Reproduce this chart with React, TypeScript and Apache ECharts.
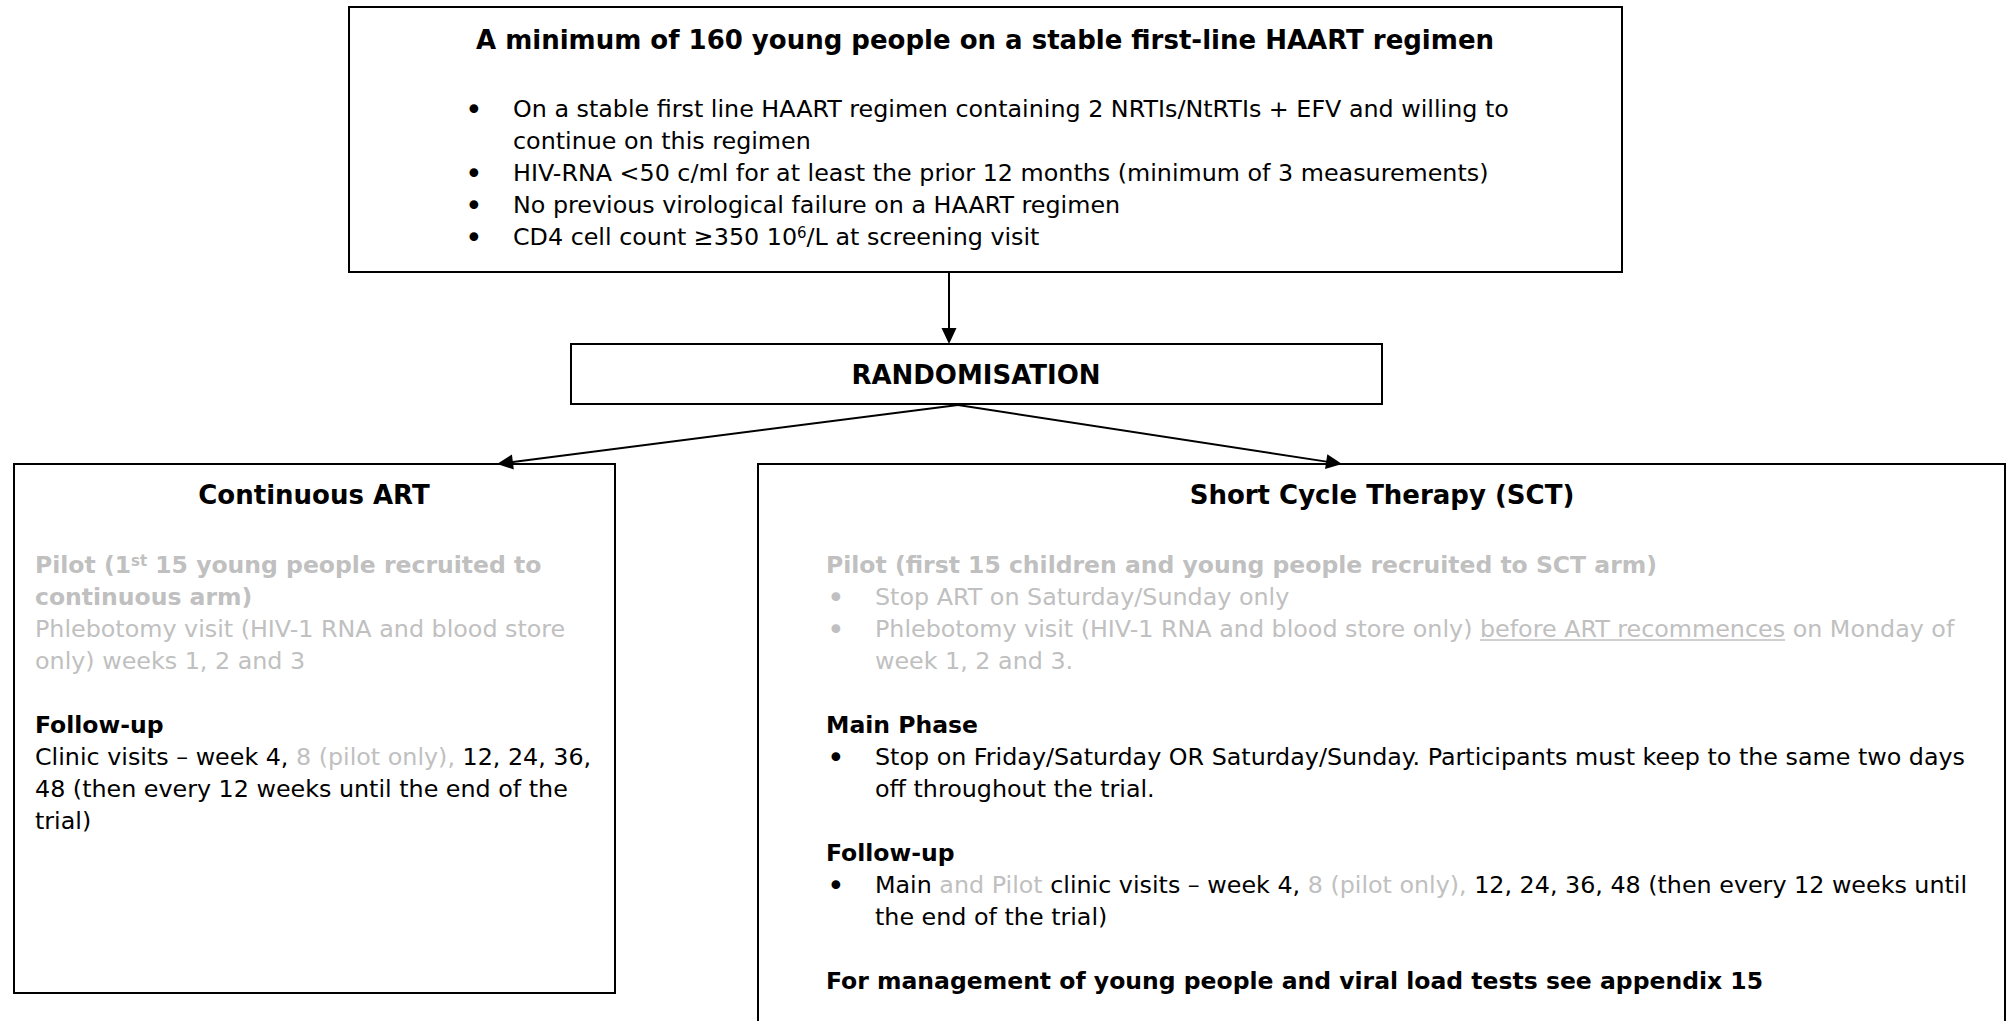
import React, { useEffect, useRef } from 'react';
import * as echarts from 'echarts';

type Seg = [string, string];
type Line = { kind: 'plain' | 'bullet' | 'cont'; segs: Seg[] } | null;

// ---------- content ----------
const topTitle = 'A minimum of 160 young people on a stable first-line HAART regimen';
const topLines: Line[] = [
  { kind: 'bullet', segs: [['n', 'On a stable first line HAART regimen containing 2 NRTIs/NtRTIs + EFV and willing to']] },
  { kind: 'cont', segs: [['n', 'continue on this regimen']] },
  { kind: 'bullet', segs: [['n', 'HIV-RNA <50 c/ml for at least the prior 12 months (minimum of 3 measurements)']] },
  { kind: 'bullet', segs: [['n', 'No previous virological failure on a HAART regimen']] },
  { kind: 'bullet', segs: [['n', 'CD4 cell count ≥350 10'], ['sup', '6'], ['n', '/L at screening visit']] },
];
const randomLabel = 'RANDOMISATION';
const leftTitle = 'Continuous ART';
const leftLines: Line[] = [
  { kind: 'plain', segs: [['gb', 'Pilot (1'], ['gbsup', 'st'], ['gb', ' 15 young people recruited to']] },
  { kind: 'plain', segs: [['gb', 'continuous arm)']] },
  { kind: 'plain', segs: [['g', 'Phlebotomy visit (HIV-1 RNA and blood store']] },
  { kind: 'plain', segs: [['g', 'only) weeks 1, 2 and 3']] },
  null,
  { kind: 'plain', segs: [['b', 'Follow-up']] },
  { kind: 'plain', segs: [['n', 'Clinic visits – week 4, '], ['g', '8 (pilot only), '], ['n', '12, 24, 36,']] },
  { kind: 'plain', segs: [['n', '48 (then every 12 weeks until the end of the']] },
  { kind: 'plain', segs: [['n', 'trial)']] },
];
const rightTitle = 'Short Cycle Therapy (SCT)';
const rightLines: Line[] = [
  { kind: 'plain', segs: [['gb', 'Pilot (first 15 children and young people recruited to SCT arm)']] },
  { kind: 'bullet', segs: [['g', 'Stop ART on Saturday/Sunday only']] },
  { kind: 'bullet', segs: [['g', 'Phlebotomy visit (HIV-1 RNA and blood store only) '], ['gu', 'before ART recommences'], ['g', ' on Monday of']] },
  { kind: 'cont', segs: [['g', 'week 1, 2 and 3.']] },
  null,
  { kind: 'plain', segs: [['b', 'Main Phase']] },
  { kind: 'bullet', segs: [['n', 'Stop on Friday/Saturday OR Saturday/Sunday. Participants must keep to the same two days']] },
  { kind: 'cont', segs: [['n', 'off throughout the trial.']] },
  null,
  { kind: 'plain', segs: [['b', 'Follow-up']] },
  { kind: 'bullet', segs: [['n', 'Main '], ['g', 'and Pilot'], ['n', ' clinic visits – week 4, '], ['g', '8 (pilot only), '], ['n', '12, 24, 36, 48 (then every 12 weeks until']] },
  { kind: 'cont', segs: [['n', 'the end of the trial)']] },
  null,
  { kind: 'plain', segs: [['b', 'For management of young people and viral load tests see appendix 15']] },
];

// ---------- styles ----------
const FAMILY = '"DejaVu Sans", Verdana, sans-serif';
const BLACK = '#000000';
const GRAY = '#c0c0c0';
const BODY = 23.8;
const BOLD = 23.5;
const HEAD = 26;
const SUP = 15;
const BULLET = 30;

const RICH: Record<string, any> = {
  n: { fontSize: BODY, fontFamily: FAMILY, fontWeight: 'normal', fill: BLACK },
  g: { fontSize: BODY, fontFamily: FAMILY, fontWeight: 'normal', fill: GRAY },
  gu: { fontSize: BODY, fontFamily: FAMILY, fontWeight: 'normal', fill: GRAY },
  b: { fontSize: BOLD, fontFamily: FAMILY, fontWeight: 'bold', fill: BLACK },
  gb: { fontSize: BOLD, fontFamily: FAMILY, fontWeight: 'bold', fill: GRAY },
  sup: { fontSize: SUP, fontFamily: FAMILY, fontWeight: 'normal', fill: BLACK, verticalAlign: 'top' },
  gbsup: { fontSize: SUP, fontFamily: FAMILY, fontWeight: 'bold', fill: GRAY, verticalAlign: 'top' },
};

let measureCtx: CanvasRenderingContext2D | null = null;
function measure(key: string, text: string): number {
  if (!measureCtx) measureCtx = document.createElement('canvas').getContext('2d');
  const s = RICH[key];
  measureCtx!.font = `${s.fontWeight} ${s.fontSize}px ${s.fontFamily}`;
  return measureCtx!.measureText(text).width;
}

function renderLines(lines: Line[], x: number, bulletX: number, textX: number, y0: number, step: number) {
  const els: any[] = [];
  lines.forEach((ln, i) => {
    if (!ln) return;
    const y = y0 + i * step;
    const lx = ln.kind === 'plain' ? x : textX;
    const firstKey = ln.segs[0][0];
    if (ln.kind === 'bullet') {
      els.push({
        type: 'text',
        style: {
          text: '•', x: bulletX, y,
          fontSize: BULLET, fontFamily: FAMILY, fill: firstKey.startsWith('g') ? GRAY : BLACK,
          textAlign: 'left', textVerticalAlign: 'middle',
        },
      });
    }
    els.push({
      type: 'text',
      style: {
        text: ln.segs.map(([k, t]) => `{${k}|${t}}`).join(''),
        x: lx, y,
        fontSize: BODY, fontFamily: FAMILY, fill: BLACK,
        textAlign: 'left', textVerticalAlign: 'middle',
        rich: RICH,
      },
    });
    let off = 0;
    ln.segs.forEach(([k, t]) => {
      const w = measure(k, t);
      if (k === 'gu') {
        els.push({
          type: 'line',
          shape: { x1: lx + off, y1: y + 11, x2: lx + off + w, y2: y + 11 },
          style: { stroke: GRAY, lineWidth: 1.5 },
        });
      }
      off += w;
    });
  });
  return els;
}

function arrow(x1: number, y1: number, x2: number, y2: number) {
  const len = Math.hypot(x2 - x1, y2 - y1);
  const ux = (x2 - x1) / len;
  const uy = (y2 - y1) / len;
  const hl = 16;
  const hw = 7.5;
  const bx = x2 - ux * hl;
  const by = y2 - uy * hl;
  return [
    { type: 'line', shape: { x1, y1, x2: bx + ux * 2, y2: by + uy * 2 }, style: { stroke: BLACK, lineWidth: 2 } },
    {
      type: 'polygon',
      shape: { points: [[x2, y2], [bx - uy * hw, by + ux * hw], [bx + uy * hw, by - ux * hw]] },
      style: { fill: BLACK },
    },
  ];
}

function box(x: number, y: number, w: number, h: number) {
  return { type: 'rect', shape: { x, y, width: w, height: h }, style: { fill: '#ffffff', stroke: BLACK, lineWidth: 2 } };
}

function heading(text: string, cx: number, cy: number) {
  return {
    type: 'text',
    style: {
      text, x: cx, y: cy, fontSize: HEAD, fontWeight: 'bold', fontFamily: FAMILY, fill: BLACK,
      textAlign: 'center', textVerticalAlign: 'middle',
    },
  };
}

export default function App() {
  const ref = useRef<HTMLDivElement>(null);
  useEffect(() => {
    if (!ref.current) return;
    const chart = echarts.init(ref.current, undefined, { renderer: 'svg' });
    const elements: any[] = [
      box(349, 7, 1273, 265),
      box(571, 344, 811, 60),
      box(14, 464, 601, 529),
      box(758, 464, 1247, 600),
      ...arrow(949, 272, 949, 344),
      ...arrow(958, 405, 497, 464),
      ...arrow(958, 405, 1342, 464),
      heading(topTitle, 985, 40),
      heading(randomLabel, 976, 375),
      heading(leftTitle, 314, 495),
      heading(rightTitle, 1382, 495),
      ...renderLines(topLines, 513, 465, 513, 109, 32),
      ...renderLines(leftLines, 35, 28, 35, 565, 32),
      ...renderLines(rightLines, 826, 827, 875, 565, 32),
    ];
    chart.setOption({
      animation: false,
      backgroundColor: '#ffffff',
      graphic: { elements },
    });
    return () => chart.dispose();
  }, []);
  return <div ref={ref} style={{ position: 'absolute', left: 0, top: 0, width: 2012, height: 1021 }} />;
}
